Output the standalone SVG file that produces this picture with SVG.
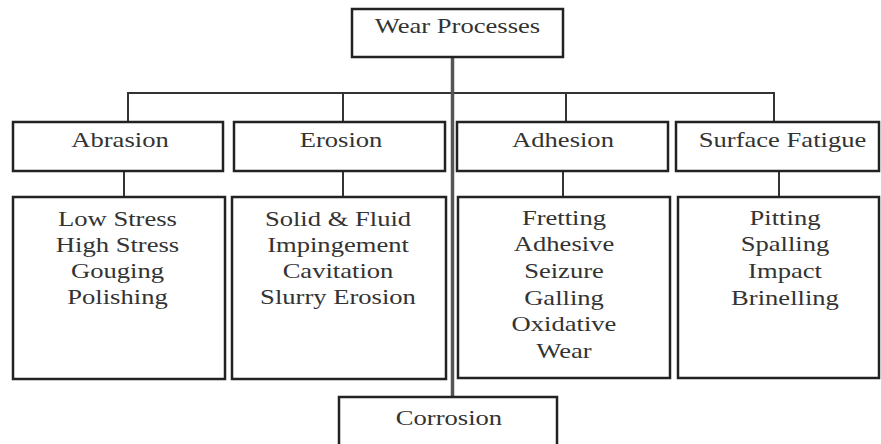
<svg xmlns="http://www.w3.org/2000/svg" width="881" height="444" viewBox="0 0 881 444">
<style>
.box{fill:#fff;stroke:#222;stroke-width:2.5}
.ln{fill:none;stroke:#333;stroke-width:2}
.tr{fill:none;stroke:#555;stroke-width:3.5}
text{font-family:"Liberation Serif","Times New Roman",serif;font-size:20px;fill:#333;text-anchor:middle}
</style>
<rect width="881" height="444" fill="#fff"/>
<g id="connectors">
<path class="ln" d="M128 122V93H774V122M343 93V122M566 93V122"/>
<path class="ln" d="M124 171V197M343 171V197M563 171V197M779 171V197"/>
<path class="tr" d="M452.5 57V397"/>
</g>
<g id="wear">
<rect class="box" x="352" y="9" width="211" height="48"/>
<text transform="translate(457.5,33) scale(1.33,1)">Wear Processes</text>
</g>
<g id="abrasion">
<rect class="box" x="13" y="122" width="210" height="49"/>
<text transform="translate(120,147) scale(1.33,1)">Abrasion</text>
</g>
<g id="erosion">
<rect class="box" x="234" y="122" width="211" height="49"/>
<text transform="translate(341,147) scale(1.33,1)">Erosion</text>
</g>
<g id="adhesion">
<rect class="box" x="457" y="122" width="211" height="49"/>
<text transform="translate(563,147) scale(1.33,1)">Adhesion</text>
</g>
<g id="fatigue">
<rect class="box" x="676" y="122" width="203" height="49"/>
<text transform="translate(782.5,147) scale(1.33,1)">Surface Fatigue</text>
</g>
<g id="abrasion-types">
<rect class="box" x="13" y="197" width="212" height="182"/>
<text transform="translate(117.5,226) scale(1.33,1)">Low Stress</text>
<text transform="translate(117.5,252) scale(1.33,1)">High Stress</text>
<text transform="translate(117.5,278) scale(1.33,1)">Gouging</text>
<text transform="translate(117.5,304) scale(1.33,1)">Polishing</text>
</g>
<g id="erosion-types">
<rect class="box" x="232" y="197" width="214" height="182"/>
<text transform="translate(338,226) scale(1.33,1)">Solid  &amp; Fluid</text>
<text transform="translate(338,252) scale(1.33,1)">Impingement</text>
<text transform="translate(338,278) scale(1.33,1)">Cavitation</text>
<text transform="translate(338,304) scale(1.33,1)">Slurry Erosion</text>
</g>
<g id="adhesion-types">
<rect class="box" x="458" y="197" width="212" height="181"/>
<text transform="translate(564,225) scale(1.33,1)">Fretting</text>
<text transform="translate(564,251) scale(1.33,1)">Adhesive</text>
<text transform="translate(564,278) scale(1.33,1)">Seizure</text>
<text transform="translate(564,305) scale(1.33,1)">Galling</text>
<text transform="translate(564,331) scale(1.33,1)">Oxidative</text>
<text transform="translate(564,358) scale(1.33,1)">Wear</text>
</g>
<g id="fatigue-types">
<rect class="box" x="678" y="197" width="201" height="181"/>
<text transform="translate(785,225) scale(1.33,1)">Pitting</text>
<text transform="translate(785,251) scale(1.33,1)">Spalling</text>
<text transform="translate(785,278) scale(1.33,1)">Impact</text>
<text transform="translate(785,305) scale(1.33,1)">Brinelling</text>
</g>
<g id="corrosion">
<rect class="box" x="339" y="397" width="218" height="60"/>
<text transform="translate(449,425) scale(1.33,1)">Corrosion</text>
</g>
</svg>
